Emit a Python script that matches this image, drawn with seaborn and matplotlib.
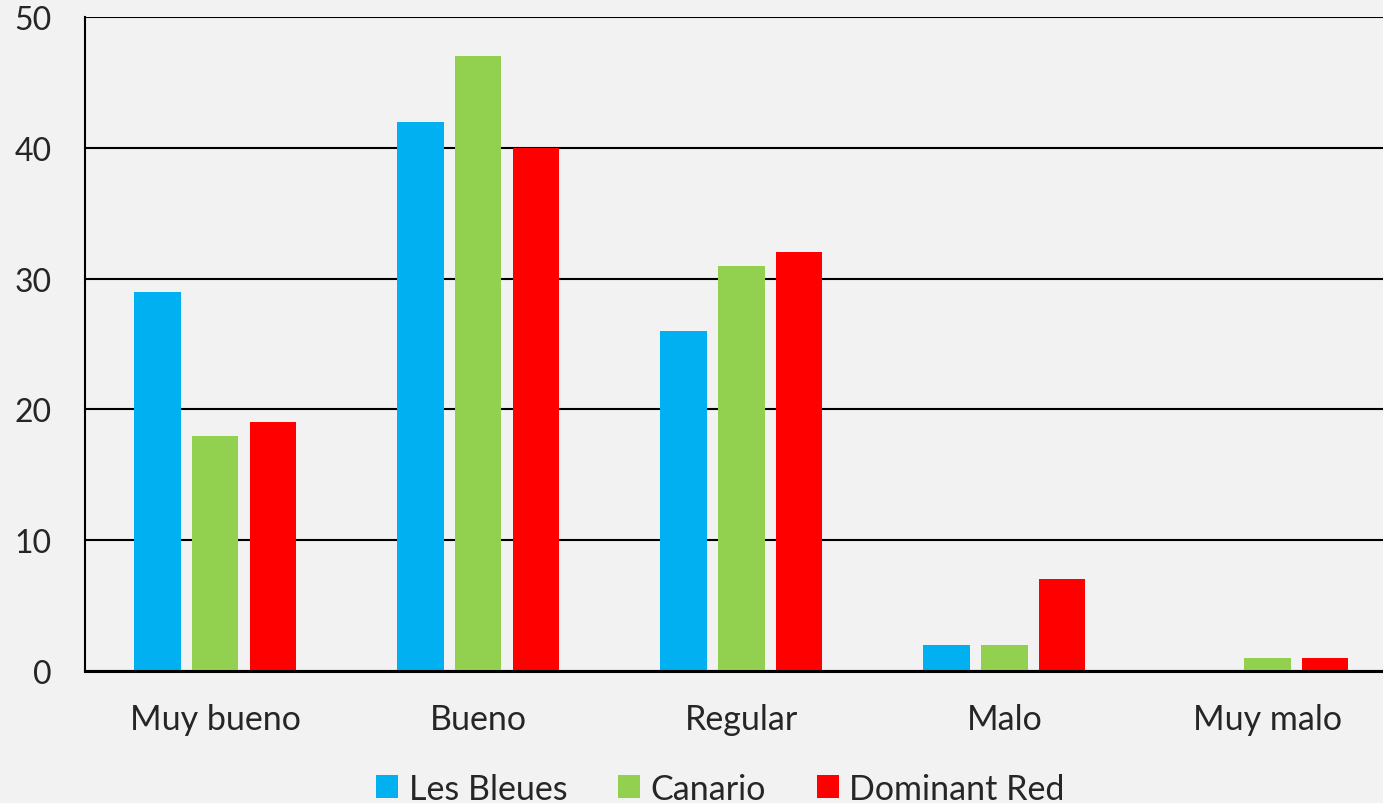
import pandas as pd
import matplotlib.pyplot as plt
import seaborn as sns

# data
categories = ["Muy bueno", "Bueno", "Regular", "Malo", "Muy malo"]
series = ["Les Bleues", "Canario", "Dominant Red"]
les_bleues = [29, 42, 26, 2, 0]
canario = [18, 47, 31, 2, 1]
dominant_red = [19, 40, 32, 7, 1]
colors = ["#00B0F0", "#92D050", "#FF0000"]

df = pd.DataFrame({
    "Categoria": categories * 3,
    "Serie": [s for s in series for _ in categories],
    "Valor": les_bleues + canario + dominant_red,
})

sns.set_style("white")
plt.rcParams["font.family"] = ["Lato", "DejaVu Sans"]
bg = "#F2F2F2"

fig = plt.figure(figsize=(13.83, 8.04), dpi=100, facecolor=bg)
# plot area runs a little past the right edge of the picture, as in the reference
ax = fig.add_axes([0.0615, 0.1642, 0.951, 0.8134], facecolor=bg)

sns.barplot(data=df, x="Categoria", y="Valor", hue="Serie", order=categories,
            hue_order=series, palette=colors, width=0.66, gap=0.2,
            saturation=1, linewidth=0, ax=ax, legend=True)

ax.set_xlim(-0.495, len(categories) - 0.495)
ax.set_ylim(0, 50)
ax.set_yticks(range(0, 51, 10))
ax.yaxis.grid(True, color="black", linewidth=1.5)
ax.set_axisbelow(True)
ax.set_xlabel("")
ax.set_ylabel("")
for side in ["top", "right"]:
    ax.spines[side].set_visible(False)
ax.spines["left"].set_color("black")
ax.spines["left"].set_linewidth(1.5)
ax.spines["bottom"].set_color("black")
ax.spines["bottom"].set_linewidth(2.2)
ax.tick_params(axis="y", length=0, pad=24, labelsize=23)
ax.tick_params(axis="x", length=0, pad=23, labelsize=24.5)

handles, labels = ax.get_legend_handles_labels()
ax.get_legend().remove()
fig.legend(handles, labels, loc="lower center", bbox_to_anchor=(0.521, -0.04),
           ncol=3, frameon=False, fontsize=24.5, handlelength=0.65, handleheight=0.65,
           handletextpad=0.3, columnspacing=1.5)

fig.savefig("out.png", dpi=100, facecolor=bg)
